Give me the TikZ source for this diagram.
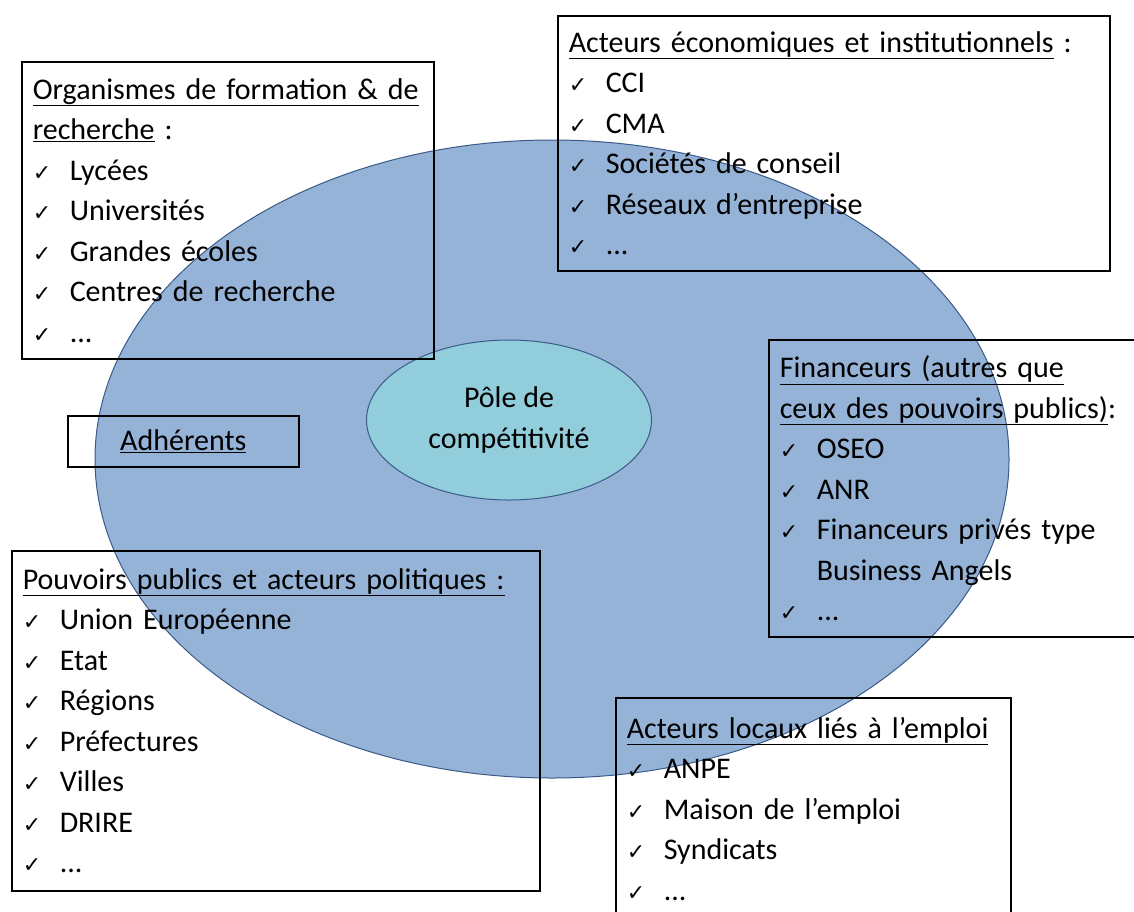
\documentclass[tikz,border=0pt]{standalone}
\usepackage{fontspec}
\setmainfont{Carlito}
\newfontfamily\symbfont{DejaVu Sans}
\usetikzlibrary{shapes.geometric}

\definecolor{bleuclair}{HTML}{95B3D7}
\definecolor{bleuturq}{HTML}{92CDDC}
\definecolor{bleubord}{HTML}{3A5A88}
\newcommand{\coche}{\makebox[37pt][l]{\symbfont\fontsize{22}{22}\selectfont ✓}}

\begin{document}
\begin{tikzpicture}[x=1pt,y=-1pt,
    liste/.style={draw=black, line width=1.5pt, anchor=north west, align=left,
      inner xsep=11pt, inner ysep=0pt, font=\fontsize{30}{40.5}\selectfont},
    grande/.style={ellipse, draw=bleubord, line width=1pt, fill=bleuclair},
    petite/.style={ellipse, draw=bleubord, line width=1pt, fill=bleuturq,
      align=center, font=\fontsize{30}{40.5}\selectfont}]
        \useasboundingbox (0,0) rectangle (1134,911);
        % Draw the ellipses
        \node[grande, minimum width=914pt, minimum height=638pt] (reseau) at (552,459) {};
        \node[petite, minimum width=285pt, minimum height=160pt] (pole) at (509,420) {P\^ole de\\comp\'etitivit\'e};
        % Organismes de formation
        \node[liste, text width=390pt, minimum height=297pt] (formation) at (21,61)
            {\underline{Organismes de formation \& de}\\
             \underline{recherche} :\\
             \coche Lycées\\
             \coche Universités\\
             \coche Grandes écoles\\
             \coche Centres de recherche\\
             \coche ...};
        % Acteurs economiques
        \node[liste, text width=530pt, minimum height=255pt] (economie) at (557,15)
            {\underline{Acteurs économiques et institutionnels} :\\
             \coche CCI\\
             \coche CMA\\
             \coche Sociétés de conseil\\
             \coche Réseaux d’entreprise\\
             \coche ...};
        % Financeurs
        \node[liste, text width=380pt, minimum height=297pt] (financeurs) at (768,339)
            {\underline{Financeurs (autres que}\\
             \underline{ceux des pouvoirs publics)}:\\
             \coche OSEO\\
             \coche ANR\\
             \coche Financeurs privés type\\
             \hspace*{37pt}Business Angels\\
             \coche ...};
        % Adherents
        \node[liste, align=center, minimum width=231pt, minimum height=51pt] (adherents) at (67,415)
            {\underline{Adhérents}};
        % Pouvoirs publics
        \node[liste, text width=506pt, minimum height=340pt] (pouvoirs) at (11,550)
            {\underline{Pouvoirs publics et acteurs politiques :}\\
             \coche Union Européenne\\
             \coche Etat\\
             \coche Régions\\
             \coche Préfectures\\
             \coche Villes\\
             \coche DRIRE\\
             \coche ...};
        % Acteurs locaux
        \node[liste, text width=373pt, minimum height=222pt] (emploi) at (615,697)
            {\underline{Acteurs locaux liés à l’emploi}\\
             \coche ANPE\\
             \coche Maison de l’emploi\\
             \coche Syndicats\\
             \coche ...};
\end{tikzpicture}
\end{document}
